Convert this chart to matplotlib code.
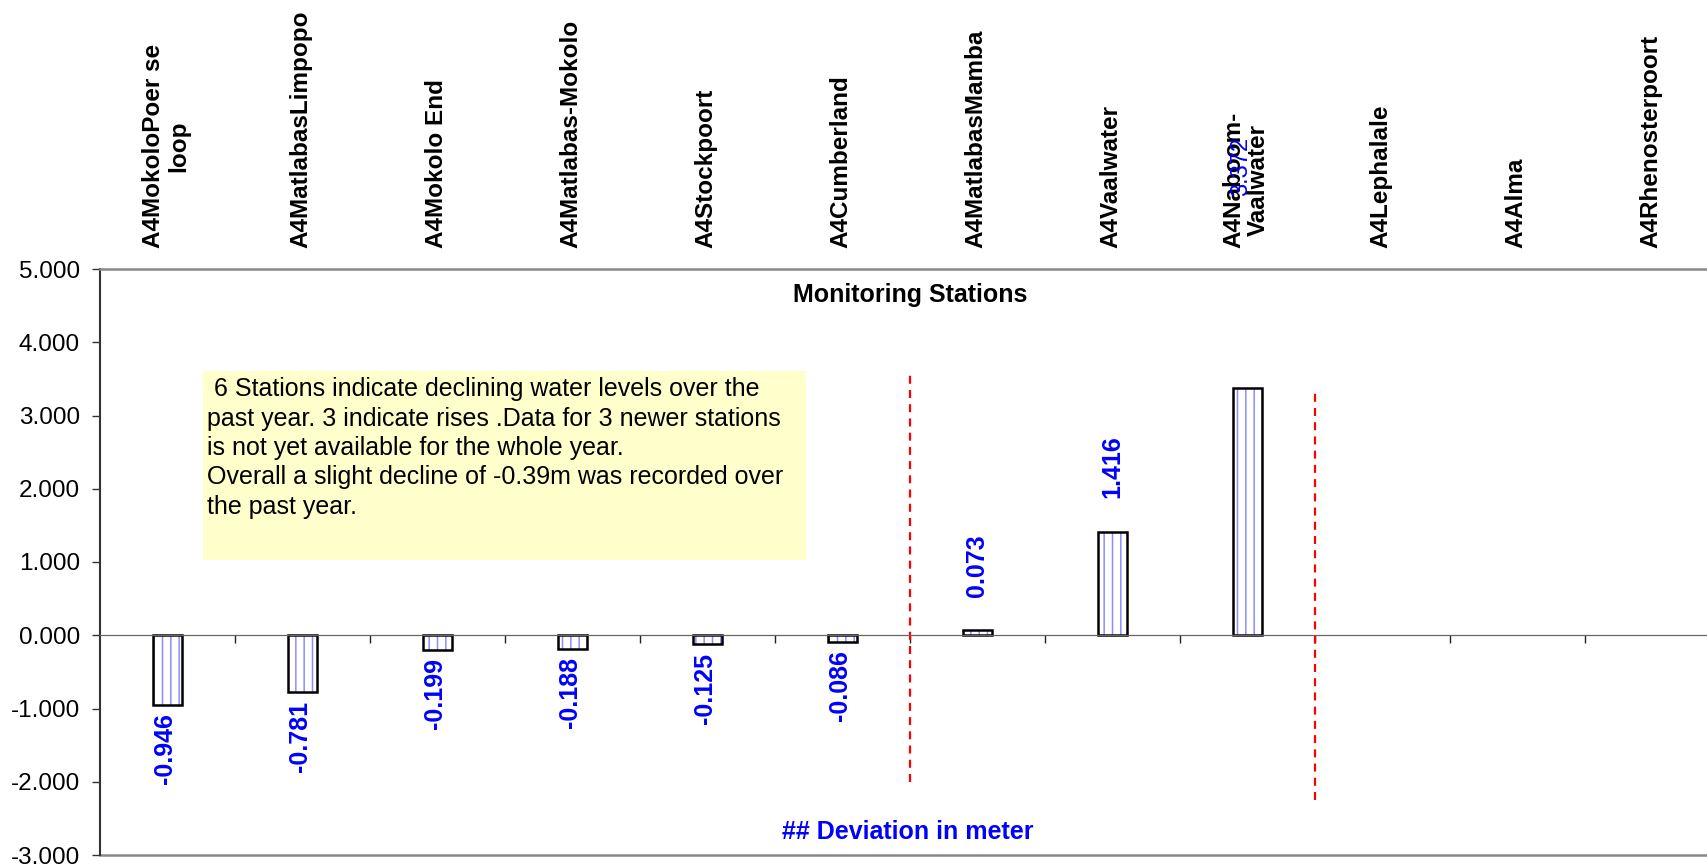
import numpy as np
import matplotlib
matplotlib.use('Agg')
import matplotlib.pyplot as plt
from matplotlib.patches import Rectangle

plt.rcParams['font.family'] = ['Liberation Sans', 'DejaVu Sans']
plt.rcParams['hatch.linewidth'] = 1.1

stations = ['A4MokoloPoer se\nloop', 'A4MatlabasLimpopo', 'A4Mokolo End',
            'A4Matlabas-Mokolo', 'A4Stockpoort', 'A4Cumberland',
            'A4MatlabasMamba', 'A4Vaalwater', 'A4Naboom-\nVaalwater',
            'A4Lephalale', 'A4Alma', 'A4Rhenosterpoort']
deviation = [-0.946, -0.781, -0.199, -0.188, -0.125, -0.086,
             0.073, 1.416, 3.372, np.nan, np.nan, np.nan]
yticks = [-3, -2, -1, 0, 1, 2, 3, 4, 5]

note = (' 6 Stations indicate declining water levels over the\n'
        'past year. 3 indicate rises .Data for 3 newer stations\n'
        'is not yet available for the whole year.\n'
        'Overall a slight decline of -0.39m was recorded over\n'
        'the past year.')

x = np.arange(len(stations))
vals = np.array(deviation)

fig = plt.figure(figsize=(17.08, 8.67), dpi=100)
ax = fig.add_axes([100 / 1708, 12 / 867, 1620 / 1708, 586 / 867])

# hatched fill first, black outline on top (edgecolor would override hatch colour)
ax.bar(x, vals, 0.215, color='white', edgecolor='#8c8cff', hatch='||', linewidth=0)
ax.bar(x, vals, 0.215, fill=False, edgecolor='black', linewidth=1.8)

ax.set_xlim(-0.5, len(stations) - 0.5)
ax.set_ylim(-3, 5)
ax.set_yticks(yticks)
ax.set_yticklabels(['{:.3f}'.format(t) for t in yticks])
ax.tick_params(axis='y', direction='out', length=6, width=1, pad=8.5,
               labelsize=17.5, color='#333333')

# category axis sits on the zero line, ticks between categories
ax.spines['bottom'].set_position(('data', 0))
ax.spines['bottom'].set_color('#666666')
ax.spines['bottom'].set_linewidth(0.9)
ax.set_xticks([])
ax.set_xticks(x[:-1] + 0.5, minor=True)
ax.tick_params(axis='x', which='minor', direction='out', length=6, width=1,
               color='#222222')
ax.spines['left'].set_color('#333333')
ax.spines['left'].set_linewidth(1.5)
ax.spines['top'].set_color('#888888')
ax.spines['top'].set_linewidth(1.8)
ax.spines['right'].set_visible(False)
ax.axhline(-3, color='#888888', linewidth=1.8, clip_on=False)

# station names above the plot area
for i, name in enumerate(stations):
    ax.annotate(name, (i, 1), xycoords=('data', 'axes fraction'),
                xytext=(-1, 15), textcoords='offset points',
                rotation=90, ha='center', va='bottom', multialignment='center',
                fontsize=17.5, fontweight='bold', linespacing=1.1)

# value labels
top_val = np.nanmax(vals)
for i, v in enumerate(vals):
    if np.isnan(v):
        continue
    if v == top_val:
        # this one ended up up among the station names in the original
        ax.text(i - 0.05, 6.0, '{:.3f}'.format(v), rotation=90, ha='center',
                va='bottom', color='#0000ff', fontsize=17, clip_on=False)
    elif v < 0:
        ax.annotate('{:.3f}'.format(v), (i, v), xytext=(-2, -6),
                    textcoords='offset points', rotation=90, ha='center',
                    va='top', color='#0000ff', fontsize=18, fontweight='bold')
    else:
        ax.annotate('{:.3f}'.format(v), (i, v), xytext=(0, 24),
                    textcoords='offset points', rotation=90, ha='center',
                    va='bottom', color='#0000ff', fontsize=18, fontweight='bold')

# group dividers
ax.vlines(5.5, -2.0, 3.6, colors='red', linewidth=1.6, linestyles=(0, (3.6, 2.8)))
ax.vlines(8.5, -2.25, 3.35, colors='red', linewidth=1.6, linestyles=(0, (3.6, 2.8)))

# comment box
ax.add_patch(Rectangle((0.263, 1.03), 4.467, 2.58, facecolor='#ffffcc',
                       edgecolor='none', zorder=0.5))
ax.text(0.29, 3.52, note, ha='left', va='top', fontsize=18, linespacing=1.28)

ax.text(0.5, 0.955, 'Monitoring Stations', transform=ax.transAxes,
        ha='center', va='center', fontsize=18, fontweight='bold')
ax.text(0.4985, 0.04, '## Deviation in meter', transform=ax.transAxes,
        ha='center', va='center', fontsize=18, fontweight='bold', color='#0000ff')

plt.savefig('out.png', dpi=100)
plt.close()
